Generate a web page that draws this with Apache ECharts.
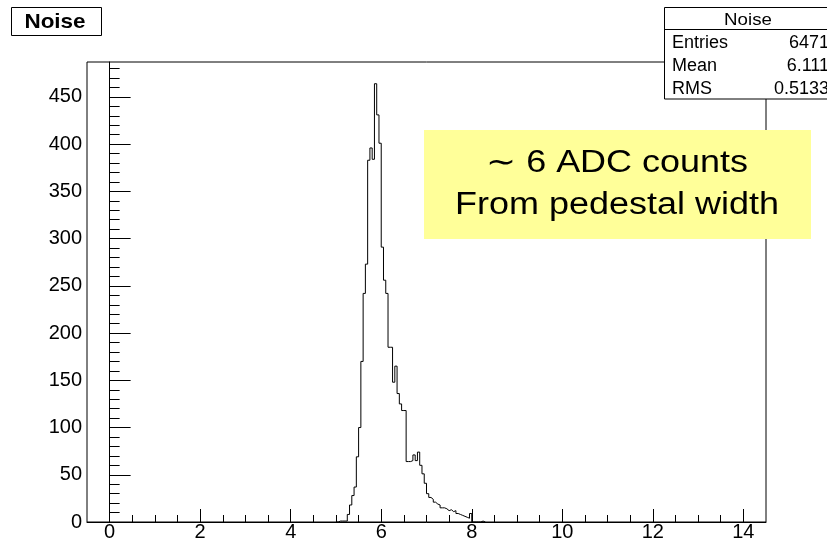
<!DOCTYPE html>
<html>
<head>
<meta charset="utf-8">
<script src="https://cdn.jsdelivr.net/npm/echarts@6/dist/echarts.min.js"></script>
<style>
html,body{margin:0;padding:0;background:#fff;}
#chart{width:827px;height:546px;}
</style>
</head>
<body>
<div id="chart"></div>
<script>
// ---- data ----
const binStart = 5.00;
const binWidth = 0.05;
const counts = [0,1,1,1,1,8,18,28,37,69,100,170,242,273,383,396,384,464,431,401,
  291,256,242,185,185,148,165,136,125,118,118,64,64,65,71,65,74,60,51,41,
  30,26,24,21,19,18,15,15,14,12,13,11,12,9,8,7,6,5,4,9,
  0,0,0,0,1,0];
const xMajorTicks = [0,2,4,6,8,10,12,14];
const xMinorTicks = [0.5,1,1.5,2.5,3,3.5,4.5,5,5.5,6.5,7,7.5,8.5,9,9.5,10.5,11,11.5,12.5,13,13.5];
const yMajorTicks = [0,50,100,150,200,250,300,350,400,450];
const yMinorTicks = [10,20,30,40,60,70,80,90,110,120,130,140,160,170,180,190,210,220,230,240,260,270,280,290,310,320,330,340,360,370,380,390,410,420,430,440,460,470,480];
const statsLabels = ['Entries','Mean','RMS'];
const statsValues = ['6471','6.111','0.5133'];
const histTitle = 'Noise';
const noteLines = ['\u223C 6 ADC counts','From pedestal width'];

// ---- build ----
const pts = [];
for (let i = 0; i < counts.length; i++) {
  pts.push([+(binStart + i*binWidth).toFixed(3), counts[i]]);
}
pts.push([+(binStart + counts.length*binWidth).toFixed(3), 0]);

const FONT = '"Liberation Sans", Arial, Helvetica, sans-serif';
const chart = echarts.init(document.getElementById('chart'), null, {renderer:'canvas'});

const xBase = {type:'value', min:-0.5, max:14.5, gridIndex:0, position:'bottom', splitLine:{show:false}};
const yBase = {type:'value', min:0, max:487, gridIndex:0, position:'left', splitLine:{show:false}};

chart.setOption({
  animation:false,
  backgroundColor:'#fff',
  grid:{left:87, right:61, top:62, bottom:24, show:true, borderColor:'#000', borderWidth:1, backgroundColor:'transparent'},
  xAxis:[
    Object.assign({}, xBase, {
      axisLine:{show:true, lineStyle:{color:'#000', width:1}},
      axisTick:{show:true, inside:true, length:13, customValues:xMajorTicks, lineStyle:{color:'#000'}},
      axisLabel:{show:true, customValues:xMajorTicks, margin:0, color:'#000', fontSize:20, fontFamily:FONT}
    }),
    Object.assign({}, xBase, {
      axisLine:{show:false},
      axisTick:{show:true, inside:true, length:7, customValues:xMinorTicks, lineStyle:{color:'#000'}},
      axisLabel:{show:false}
    })
  ],
  yAxis:[
    Object.assign({}, yBase, {
      axisLine:{show:true, lineStyle:{color:'#000', width:1}},
      axisTick:{show:true, inside:true, length:21, customValues:yMajorTicks, lineStyle:{color:'#000'}},
      axisLabel:{show:true, customValues:yMajorTicks, margin:5, color:'#000', fontSize:20, fontFamily:FONT}
    }),
    Object.assign({}, yBase, {
      axisLine:{show:false},
      axisTick:{show:true, inside:true, length:10, customValues:yMinorTicks, lineStyle:{color:'#000'}},
      axisLabel:{show:false}
    })
  ],
  series:[{
    type:'line',
    xAxisIndex:0, yAxisIndex:0,
    step:'end',
    data:pts,
    symbol:'none',
    lineStyle:{color:'#000', width:1},
    z:3
  }],
  graphic:[
    {type:'rect', z:100, shape:{x:11.5, y:7.5, width:90, height:28}, style:{fill:'#fff', stroke:'#000', lineWidth:1}},
    {type:'text', z:101, x:55, y:22, scaleX:1.07, style:{x:0, y:0, text:histTitle, fill:'#000', font:'bold 21px ' + FONT, textAlign:'center', textVerticalAlign:'middle'}},

    {type:'rect', z:100, shape:{x:664.5, y:7.5, width:170, height:91.5}, style:{fill:'#fff', stroke:'#000', lineWidth:1}},
    {type:'line', z:101, shape:{x1:664.5, y1:29.5, x2:830, y2:29.5}, style:{stroke:'#000', lineWidth:1}},
    {type:'text', z:101, x:748, y:20, scaleX:1.1, style:{x:0, y:0, text:histTitle, fill:'#000', font:'17px ' + FONT, textAlign:'center', textVerticalAlign:'middle'}},
    {type:'text', z:101, x:672, y:43, style:{text:statsLabels[0], fill:'#000', font:'18px ' + FONT, textAlign:'left', textVerticalAlign:'middle'}},
    {type:'text', z:101, x:672, y:66, style:{text:statsLabels[1], fill:'#000', font:'18px ' + FONT, textAlign:'left', textVerticalAlign:'middle'}},
    {type:'text', z:101, x:672, y:89, style:{text:statsLabels[2], fill:'#000', font:'18px ' + FONT, textAlign:'left', textVerticalAlign:'middle'}},
    {type:'text', z:101, x:829, y:43, style:{text:statsValues[0], fill:'#000', font:'18px ' + FONT, textAlign:'right', textVerticalAlign:'middle'}},
    {type:'text', z:101, x:829, y:66, style:{text:statsValues[1], fill:'#000', font:'18px ' + FONT, textAlign:'right', textVerticalAlign:'middle'}},
    {type:'text', z:101, x:829, y:89, style:{text:statsValues[2], fill:'#000', font:'18px ' + FONT, textAlign:'right', textVerticalAlign:'middle'}},

    {type:'rect', z:100, shape:{x:424, y:130, width:387, height:109}, style:{fill:'#FFFF99', stroke:null}},
    {type:'text', z:101, x:617, y:163, scaleX:1.16, style:{x:0, y:0, text:noteLines[0], fill:'#000', font:'31px ' + FONT, textAlign:'center', textVerticalAlign:'middle'}},
    {type:'text', z:101, x:617, y:205, scaleX:1.16, style:{x:0, y:0, text:noteLines[1], fill:'#000', font:'31px ' + FONT, textAlign:'center', textVerticalAlign:'middle'}}
  ]
});
</script>
</body>
</html>
